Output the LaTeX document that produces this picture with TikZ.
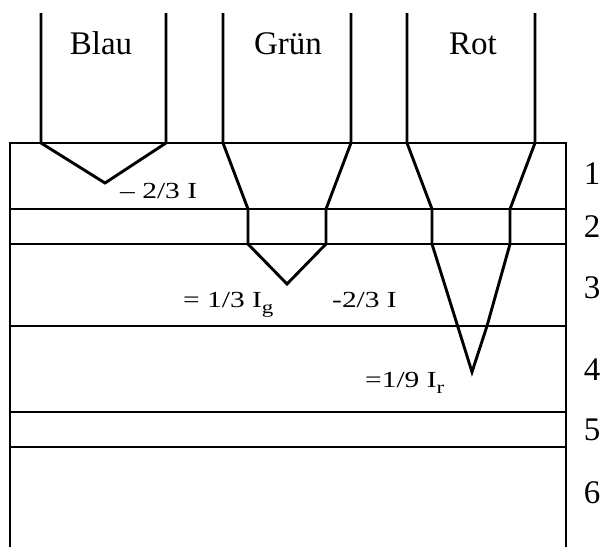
\documentclass[tikz,border=0pt]{standalone}
\usepackage{fontspec}
\setmainfont{Liberation Serif}
% intensity labels are set wide
\newcommand{\widelabel}[1]{\scalebox{1.28}[1]{#1}}
% low, fairly large subscript for the intensity symbols
\newcommand{\lowsub}[1]{\raisebox{-0.3em}{\fontsize{18}{20}\selectfont #1}}
\begin{document}
\begin{tikzpicture}[x=1pt,y=-1pt,
  wall/.style={line width=2.9pt, line join=miter},
  layer/.style={line width=2.6pt},
  bigtext/.style={font=\fontsize{33}{39}\selectfont, inner sep=0pt},
  smalltext/.style={font=\fontsize{23}{27}\selectfont, inner sep=0pt, anchor=base west}]
\useasboundingbox (0,0) rectangle (600,547);

% layer stack, open at the bottom
\draw[wall] (10,547) -- (10,143) -- (566,143) -- (566,547);
\foreach \y in {209,244,326,412,447}
  \draw[layer] (10,\y) -- (566,\y);

% blue channel
\draw[wall] (41,13) -- (41,143) -- (105,183) -- (166,143) -- (166,13);
% green channel
\draw[wall] (223,13) -- (223,143) -- (248,209) -- (248,244) -- (287,284)
  -- (326,244) -- (326,209) -- (351,143) -- (351,13);
% red channel
\draw[wall] (407,13) -- (407,143) -- (432,209) -- (432,244) -- (472,372)
  -- (487,326) -- (510,244) -- (510,209) -- (535,143) -- (535,13);

% channel names
\node[bigtext, anchor=base] (blau) at (101,54) {Blau};
\node[bigtext, anchor=base] (gruen) at (288,54) {Grün};
\node[bigtext, anchor=base] (rot) at (473,54) {Rot};

% layer numbers
\foreach \n/\y in {1/174,2/227,3/288,4/370,5/430,6/493}
  \node[bigtext] (n\n) at (592,\y) {\n};

% intensity labels
\node[smalltext] (lb) at (120,198) {\widelabel{\textendash\ 2/3 I}};
\node[smalltext] (lg) at (183,307) {\widelabel{= 1/3 I\lowsub{g}}};
\node[smalltext] (lm) at (332,307) {\widelabel{-2/3 I}};
\node[smalltext] (lr) at (365,387) {\widelabel{=1/9 I\lowsub{r}}};
\end{tikzpicture}
\end{document}
